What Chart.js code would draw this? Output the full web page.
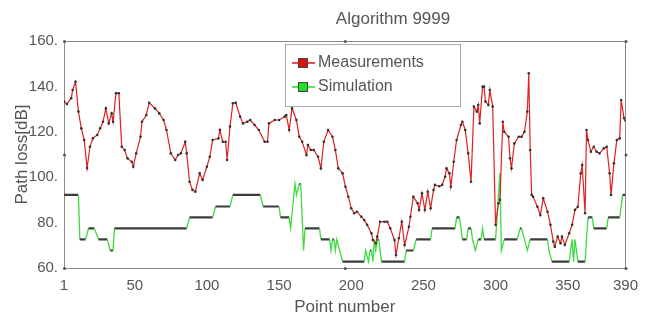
<!DOCTYPE html>
<html><head><meta charset="utf-8">
<script src="https://cdn.jsdelivr.net/npm/chart.js@4.4.0/dist/chart.umd.min.js"></script>
<style>html,body{margin:0;padding:0;background:#fff;}#wrap{width:647px;height:327px;}</style>
</head><body><div id="wrap"><canvas id="c" width="647" height="327"></canvas></div>
<script>
const chartTitle = 'Algorithm 9999';
const xTitle = 'Point number';
const yTitle = 'Path loss[dB]';
const seriesNames = ['Measurements', 'Simulation'];
const xTickValues = [1, 50, 100, 150, 200, 250, 300, 350, 390];
const yTickValues = [60, 80, 100, 120, 140, 160];

const measX = [1,3,6,7,9,11,13,15,17,19,21,24,26,28,30,32,34,35,37,39,41,43,45,48,49,51,54,55,58,60,64,67,70,72,75,78,80,82,85,86,88,90,92,95,97,100,102,104,108,109,111,113,114,116,118,120,123,125,128,130,133,136,140,142,143,147,150,154,155,157,159,162,164,166,169,170,172,174,177,179,181,184,187,189,191,194,196,198,200,202,204,207,209,211,214,215,217,218,220,223,225,227,230,231,233,235,237,240,241,243,246,247,249,251,253,255,257,258,261,263,265,266,268,269,271,273,276,277,279,281,283,285,287,288,289,291,292,293,295,296,298,300,302,303,305,306,309,310,311,313,316,318,320,322,323,324,325,326,329,331,333,336,338,340,341,343,345,346,348,351,353,355,357,359,360,362,363,364,366,368,370,372,375,377,379,380,382,384,386,387,389,390];
const measY = [133.3,132.2,134.8,138.4,142,128.9,121.5,116.4,104,113.4,117.1,118.6,121.5,124.4,130.3,123.7,128.1,124.4,137,137,113.4,112,108.3,106.8,104.6,110.5,117.8,124.4,127.4,132.8,130.3,128.1,125.2,120.8,110.5,107.6,109.8,110.5,115.6,110.5,98,94.4,93.6,101.7,98.8,104.6,109,116.4,117.1,120.8,115.6,115.6,107.6,122.3,132.6,132.8,126.7,123.7,124.4,125.2,123,120.8,115.6,115.6,123.7,125.2,125.2,126.7,127.4,120.8,130.3,125.2,117.8,115.6,109.8,114.2,112,112,109,103.9,115.6,120.8,117.8,112,103.9,101.7,95.8,91.4,86.3,84.1,84.8,82.6,81.1,79,75.3,72.3,70.9,73.8,80.4,80.4,80.4,77.5,72.3,65.7,73.1,80.4,70.1,78.2,82.6,91.4,88.5,85.6,92.9,85.6,93.6,86.3,94.4,96.6,96,96.6,100.2,103.9,101.7,95.8,106.8,116.4,123,124.4,120.8,110.5,98,131.1,128.9,131.8,123.7,139.9,139.9,133.3,131.8,138.4,131.1,79,88.5,90,124.4,120,117.8,108.3,103.9,114.9,117.8,117.8,120,128.9,145.8,112,92.2,91.4,87,83.3,90.7,84.8,79,71.6,69.4,73.8,70.9,73.8,70.1,75.3,79,85.6,87,101.7,105.4,84.1,120.8,116.4,111.2,113.4,111.2,110.5,112.7,113.4,101.7,92.2,106.1,116.4,117.1,134,126,125];

const simX = [1,11,12,16,18,22,25,31,33,35,36,86,88,104,106,116,118,137,139,150,151,157,158,161,162,164,165,167,168,178,179,185,186,187,188,189,190,192,194,209,210,212,213,214,215,216,217,218,219,221,237,238,243,245,255,256,272,273,275,277,280,281,283,284,286,288,290,291,292,300,301,303,304,306,315,317,318,320,322,324,336,337,339,351,352,353,354,355,357,362,364,367,368,377,378,386,388,390];
const simY = [92.2,92.2,72.6,72.6,77.5,77.5,72.6,72.6,67.7,67.7,77.5,77.5,82.3,82.3,87.1,87.1,92.2,92.2,87.1,87.1,82.3,82.3,77.5,97,92.2,97,97,67.7,77.5,77.5,72.6,72.6,67.7,72.6,72.6,67.7,72.6,67.7,62.8,62.8,67.7,62.8,67.7,67.7,62.8,72.6,67.7,72.6,72.6,62.8,62.8,67.7,67.7,72.6,72.6,77.5,77.5,82.3,82.3,72.6,72.6,77.5,77.5,72.6,67.7,72.6,72.6,77.5,72.6,72.6,82.3,101.8,67.7,72.6,72.6,77.5,77.5,72.6,67.7,72.6,72.6,67.7,62.8,62.8,67.7,72.6,62.8,72.6,62.8,62.8,82.3,82.3,77.5,77.5,82.3,82.3,92.2,92.2];

const FONT = '"Liberation Sans", Arial, sans-serif';
const TXT = '#555';

const measData = measX.map((x, i) => ({x: x, y: measY[i]}));
const simData = simX.map((x, i) => ({x: x, y: simY[i]}));

const framePlugin = {
  id: 'frame',
  beforeDatasetsDraw(chart) {
    const a = chart.chartArea, c = chart.ctx;
    c.save();
    c.strokeStyle = '#8a8a8a';
    c.lineWidth = 1;
    c.strokeRect(Math.round(a.left) + 0.5, Math.round(a.top) + 0.5, Math.round(a.right - a.left), Math.round(a.bottom - a.top));
    c.fillStyle = '#555';
    const mx = (a.left + a.right) / 2, my = (a.top + a.bottom) / 2;
    [[a.left, a.top], [a.right, a.top], [a.left, a.bottom], [a.right, a.bottom], [mx, a.top], [mx, a.bottom], [a.left, my], [a.right, my]].forEach(p => {
      c.beginPath(); c.arc(p[0] + 0.5, p[1] + 0.5, 1.5, 0, Math.PI * 2); c.fill();
    });
    c.restore();
  },
  afterDraw(chart) {
    const a = chart.chartArea, c = chart.ctx;
    c.save();
    // title
    c.font = '17px ' + FONT;
    c.fillStyle = TXT;
    c.textAlign = 'center';
    c.textBaseline = 'middle';
    c.fillText(chartTitle, a.left + (a.right - a.left) * 0.586, 19);
    // legend
    const bx = a.left + 221, by = a.top + 3, bw = 175, bh = 62;
    c.fillStyle = '#fff';
    c.fillRect(bx, by, bw, bh);
    c.strokeStyle = '#aaa';
    c.lineWidth = 1;
    c.strokeRect(Math.round(bx) + 0.5, Math.round(by) + 0.5, bw, bh);
    chart.data.datasets.forEach((ds, i) => {
      const cy = by + 19 + i * 24;
      const cx = bx + 18;
      c.strokeStyle = ds.legendColor;
      c.lineWidth = 1.5;
      c.beginPath(); c.moveTo(cx - 11, cy); c.lineTo(cx + 12, cy); c.stroke();
      c.fillStyle = ds.legendColor;
      c.fillRect(cx - 5, cy - 5, 10, 10);
      c.strokeStyle = '#444';
      c.lineWidth = 1;
      c.strokeRect(cx - 5 + 0.5, cy - 5 + 0.5, 9, 9);
      c.fillStyle = TXT;
      c.font = '16px ' + FONT;
      c.textAlign = 'left';
      c.textBaseline = 'middle';
      c.fillText(ds.label, cx + 15, cy);
    });
    c.restore();
  }
};

new Chart(document.getElementById('c'), {
  type: 'line',
  data: {
    datasets: [
      {
        label: seriesNames[0],
        data: measData,
        legendColor: '#e01010',
        borderColor: '#e02020',
        borderWidth: 1.2,
        pointRadius: 1.3,
        pointBackgroundColor: '#333',
        pointBorderWidth: 0,
        tension: 0
      },
      {
        label: seriesNames[1],
        data: simData,
        legendColor: '#22e022',
        borderColor: '#3ddc3d',
        borderWidth: 1.5,
        pointRadius: 0,
        tension: 0,
        segment: {
          borderColor: ctx => ctx.p0.parsed.y === ctx.p1.parsed.y ? '#3c3c3c' : '#3ddc3d',
          borderWidth: ctx => ctx.p0.parsed.y === ctx.p1.parsed.y ? 2.2 : 1.3
        }
      }
    ]
  },
  options: {
    responsive: false,
    animation: false,
    parsing: true,
    layout: { padding: { top: 41, right: 20, bottom: 0, left: 0 } },
    plugins: { legend: { display: false }, tooltip: { enabled: false }, title: { display: false } },
    scales: {
      x: {
        type: 'linear', min: 1, max: 390,
        afterBuildTicks: s => { s.ticks = xTickValues.map(v => ({ value: v })); },
        afterFit: s => { s.height = 59; },
        grid: { display: false, drawTicks: false },
        border: { display: false },
        ticks: { autoSkip: false, maxRotation: 0, color: TXT, font: { family: FONT, size: 15 }, padding: 9 },
        title: { display: true, text: xTitle, color: TXT, font: { family: FONT, size: 17 }, padding: { top: 0, bottom: 9 } }
      },
      y: {
        type: 'linear', min: 60, max: 160,
        afterBuildTicks: s => { s.ticks = yTickValues.map(v => ({ value: v })); },
        afterFit: s => { s.width = 64; },
        grid: { display: false, drawTicks: false },
        border: { display: false },
        ticks: { color: TXT, font: { family: FONT, size: 15 }, padding: 6, callback: v => v + '.' },
        title: { display: true, text: yTitle, color: TXT, font: { family: FONT, size: 17 }, padding: { top: 12, bottom: 0 } }
      }
    }
  },
  plugins: [framePlugin]
});
</script></body></html>
